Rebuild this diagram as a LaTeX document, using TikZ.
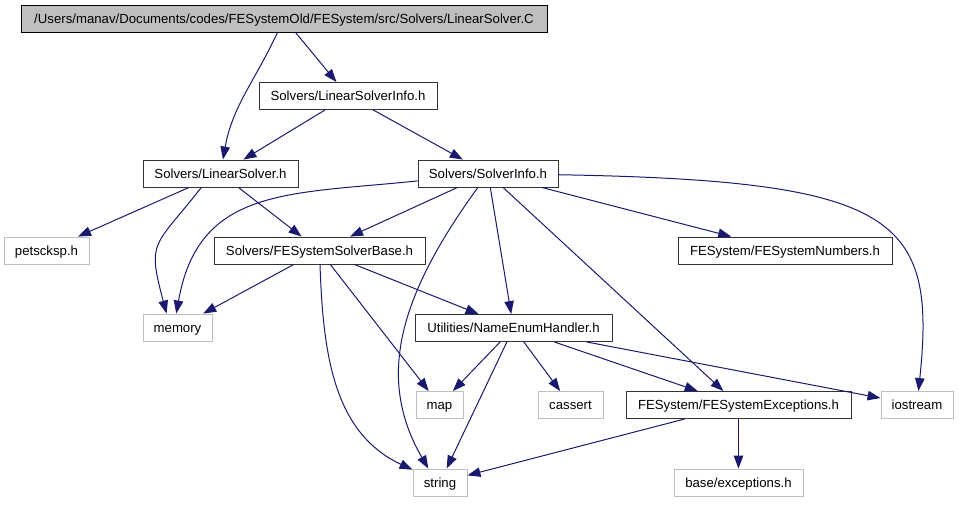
\documentclass[tikz,border=0pt]{standalone}
\usepackage{fontspec}
\setmainfont{Liberation Sans}
\usepackage{tikz}
\usetikzlibrary{arrows.meta,positioning,calc}
\definecolor{edgeblue}{HTML}{191970}
\definecolor{boxgray}{HTML}{BFBFBF}

\begin{document}
\begin{tikzpicture}[x=1pt,y=1pt,font=\fontsize{13.2}{15}\selectfont,
  box/.style={draw,line width=0.9pt,inner sep=0pt,minimum height=27pt,text height=9pt,text depth=0pt,anchor=center},
  doc/.style={box,draw=black!80},
  sys/.style={box,draw=boxgray},
  top/.style={box,draw=black,fill=boxgray},
  edge/.style={-{Triangle[length=13pt,width=9.5pt]},line width=1pt,draw=edgeblue}]
\useasboundingbox(0,0)rectangle(959,-504);
\node[top,minimum width=526](root) at(284,-18.5){/Users/manav/Documents/codes/FESystemOld/FESystem/src/Solvers/LinearSolver.C};
\node[doc,minimum width=178](lsi) at(348,-96){Solvers/LinearSolverInfo.h};
\node[doc,minimum width=155](ls) at(220.5,-173.5){Solvers/LinearSolver.h};
\node[doc,minimum width=140](si) at(488,-173.5){Solvers/SolverInfo.h};
\node[sys,minimum width=85](pk) at(46.5,-250.5){petscksp.h};
\node[doc,minimum width=211](sb) at(319.5,-250.5){Solvers/FESystemSolverBase.h};
\node[doc,minimum width=214](num) at(785,-250.5){FESystem/FESystemNumbers.h};
\node[sys,minimum width=69](mem) at(177.5,-327.5){memory};
\node[doc,minimum width=197](neh) at(513.5,-328){Utilities/NameEnumHandler.h};
\node[sys,minimum width=47](map) at(439.5,-405){map};
\node[sys,minimum width=65](cas) at(570.5,-405){cassert};
\node[doc,minimum width=225](exc) at(738.5,-405){FESystem/FESystemExceptions.h};
\node[sys,minimum width=72](ios) at(917,-405){iostream};
\node[sys,minimum width=54](str) at(440,-482.5){string};
\node[sys,minimum width=129](bex) at(738.5,-482.5){base/exceptions.h};
\foreach \a/\b in {root/lsi,lsi/ls,lsi/si,ls/pk,ls/sb,si/sb,si/neh,si/exc,si/num,
  sb/mem,sb/map,sb/neh,neh/map,neh/str,neh/cas,neh/exc,neh/ios,exc/str,exc/bex}
  \draw[edge](\a)--(\b);
\draw[edge](root)to[out=-115,in=80](ls);
\draw[edge](ls.-144)to[out=-128,in=105,looseness=1.5](mem.128);
\draw[edge](si.186)to[out=186,in=80,looseness=1.2](mem.95);
\draw[edge](si)to[out=-126,in=120,out looseness=1.24,in looseness=0.92](str.130);
\draw[edge](si)to[out=-1,in=84,out looseness=2.06,in looseness=1.07](ios);
\draw[edge](sb)to[out=-88,in=155](str);
\end{tikzpicture}
\end{document}
